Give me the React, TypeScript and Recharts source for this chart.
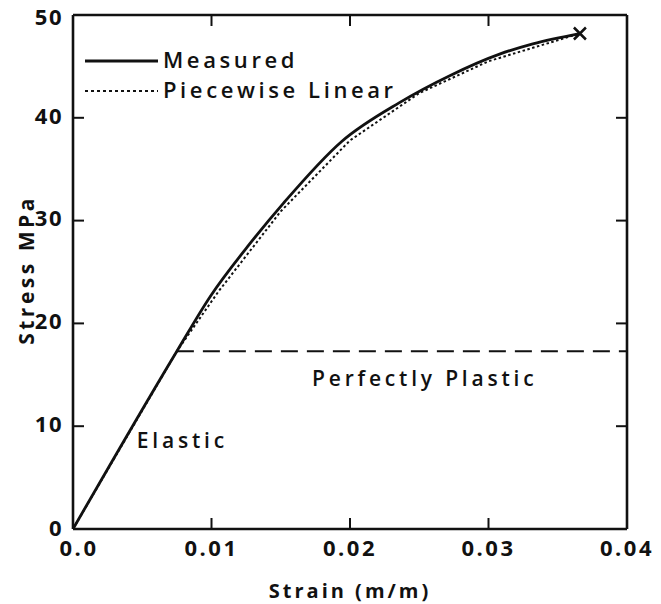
import React from "react";
import {
  Legend,
  Line,
  LineChart,
  ReferenceDot,
  XAxis,
  YAxis
} from "recharts";

// strain (m/m) and stress (MPa)
const measuredStrain = [0, 0.0075, 0.0099, 0.0128, 0.0152, 0.0194, 0.0236, 0.0272, 0.0308, 0.0332, 0.0366];
const measuredStress = [0, 17.3, 22.6, 27.8, 31.7, 37.7, 41.5, 44.1, 46.2, 47.2, 48.2];

const pieceStrain = [0, 0.0075, 0.0105, 0.015, 0.02, 0.025, 0.03, 0.0366];
const pieceStress = [0, 17.3, 23.1, 30.9, 37.8, 42.4, 45.5, 48.2];

const plasticStrain = [0.0075, 0.04];
const plasticStress = [17.3, 17.3];

const xTicks = [0, 0.01, 0.02, 0.03, 0.04];
const yTicks = [0, 10, 20, 30, 40, 50];

const legendItems = [
  { name: "Measured", dash: undefined as string | undefined },
  { name: "Piecewise Linear", dash: "3 3" }
];

const toPoints = (xs: number[], ys: number[]) => xs.map((strain, i) => ({ strain, stress: ys[i] }));

const measured = toPoints(measuredStrain, measuredStress);
const piecewise = toPoints(pieceStrain, pieceStress);
const plastic = toPoints(plasticStrain, plasticStress);

const INK = "#111";
const FONT = "'Open Sans', 'DejaVu Sans', sans-serif";

const fmtStrain = (v: number) => (v === 0 ? "0.0" : String(v));

function BottomTick({ x, y, payload }: any) {
  const v = payload.value;
  return (
    <g>
      {v > 0 && v < 0.04 && <line x1={x} x2={x} y1={y} y2={y - 11} stroke={INK} strokeWidth={2} />}
      <text x={x + (v === 0 ? 6 : 0)} y={y + 21} textAnchor="middle" dominantBaseline="middle"
        fontFamily={FONT} fontWeight={700} fontSize={22} letterSpacing={2.5} fill={INK}>
        {fmtStrain(v)}
      </text>
    </g>
  );
}

function TopTick({ x, y, payload }: any) {
  const v = payload.value;
  if (v <= 0 || v >= 0.04) return <g />;
  return <line x1={x} x2={x} y1={y} y2={y + 11} stroke={INK} strokeWidth={2} />;
}

function LeftTick({ x, y, payload }: any) {
  const v = payload.value;
  // nudge the end labels so they stay on the page
  const dy = v === 0 ? 1 : v === 50 ? 4 : 0;
  return (
    <g>
      {v > 0 && v < 50 && <line x1={x} x2={x + 11} y1={y} y2={y} stroke={INK} strokeWidth={2} />}
      <text x={x - 10} y={y + dy} textAnchor="end" dominantBaseline="middle"
        fontFamily={FONT} fontWeight={700} fontSize={22} letterSpacing={1.5} fill={INK}>
        {v}
      </text>
    </g>
  );
}

function RightTick({ x, y, payload }: any) {
  const v = payload.value;
  if (v <= 0 || v >= 50) return <g />;
  return <line x1={x} x2={x - 11} y1={y} y2={y} stroke={INK} strokeWidth={2} />;
}

function EndCross(props: any) {
  const { cx, cy, index } = props;
  if (index !== measured.length - 1) return <g key={`d${index}`} />;
  return (
    <path key={`d${index}`} d={`M${cx - 6},${cy - 6}L${cx + 6},${cy + 6}M${cx - 6},${cy + 6}L${cx + 6},${cy - 6}`}
      stroke={INK} strokeWidth={2.5} />
  );
}

function LegendBox() {
  return (
    <svg width={440} height={110}>
      {legendItems.map((item, i) => {
        const y = 61 + i * 30;
        return (
          <g key={item.name}>
            <line x1={85} x2={158} y1={y} y2={y} stroke={INK} strokeWidth={item.dash ? 2 : 2.8}
              strokeDasharray={item.dash} />
            <text x={163} y={y + 1} dominantBaseline="middle" fontFamily={FONT} fontWeight={600}
              fontSize={22} letterSpacing={3.6} fill={INK}>
              {item.name}
            </text>
          </g>
        );
      })}
    </svg>
  );
}

export default function App() {
  return (
    <div style={{ position: "absolute", left: 0, top: 0, width: 661, height: 604, background: "#fff" }}>
      <LineChart width={661} height={604} margin={{ top: 14, right: 33, bottom: 0, left: 13 }}>
        <XAxis dataKey="strain" type="number" domain={[0, 0.04]} ticks={xTicks} interval={0}
          height={75} tickSize={0} tickMargin={0} tickLine={false} tick={<BottomTick />}
          axisLine={{ stroke: INK, strokeWidth: 2.6 }}
          label={{ value: "Strain (m/m)", position: "insideBottom", offset: 6, fontFamily: FONT,
            fontWeight: 700, fontSize: 20, letterSpacing: 3, fill: INK }} />
        <XAxis xAxisId="top" orientation="top" dataKey="strain" type="number" domain={[0, 0.04]}
          ticks={xTicks} interval={0} height={1} tickSize={0} tickMargin={0} tickLine={false}
          tick={<TopTick />} axisLine={{ stroke: INK, strokeWidth: 2.6 }} />
        <YAxis type="number" domain={[0, 50]} ticks={yTicks} interval={0} width={60}
          tickSize={0} tickMargin={0} tickLine={false} tick={<LeftTick />}
          axisLine={{ stroke: INK, strokeWidth: 2.6 }}
          label={{
            content: ({ viewBox }: any) => (
              <text x={28} y={viewBox.y + viewBox.height / 2 - 2} transform={`rotate(-90 28 ${viewBox.y + viewBox.height / 2 - 2})`}
                textAnchor="middle" dominantBaseline="middle" fontFamily={FONT} fontWeight={700}
                fontSize={21} letterSpacing={3.5} fill={INK}>
                Stress MPa
              </text>
            )
          }} />
        <YAxis yAxisId="right" orientation="right" type="number" domain={[0, 50]} ticks={yTicks}
          interval={0} width={1} tickSize={0} tickMargin={0} tickLine={false} tick={<RightTick />}
          axisLine={{ stroke: INK, strokeWidth: 2.6 }} />

        {/* plastic line sits on the top/right axes so those frame axes get drawn */}
        <Line data={plastic} xAxisId="top" yAxisId="right" dataKey="stress" name="Perfectly Plastic"
          type="linear" stroke={INK} strokeWidth={2} strokeDasharray="17 9" dot={false} legendType="none"
          isAnimationActive={false} />
        <Line data={piecewise} dataKey="stress" name="Piecewise Linear" type="linear" stroke={INK}
          strokeWidth={2} strokeDasharray="2.5 2.5" dot={false} isAnimationActive={false} />
        <Line data={measured} dataKey="stress" name="Measured" type="monotone" stroke={INK}
          strokeWidth={2.8} dot={<EndCross />} isAnimationActive={false} />

        <ReferenceDot x={0.0254} y={14.6} r={0} ifOverflow="visible"
          label={{ value: "Perfectly Plastic", position: "center", fontFamily: FONT, fontWeight: 600,
            fontSize: 21, letterSpacing: 3.8, fill: INK }} />
        <ReferenceDot x={0.0079} y={8.6} r={0} ifOverflow="visible"
          label={{ value: "Elastic", position: "center", fontFamily: FONT, fontWeight: 600,
            fontSize: 21, letterSpacing: 3.8, fill: INK }} />

        <Legend layout="vertical" align="center" verticalAlign="middle" content={() => <LegendBox />}
          wrapperStyle={{ position: "absolute", left: 0, top: 0, width: 440, height: 110 }} />
      </LineChart>
    </div>
  );
}
